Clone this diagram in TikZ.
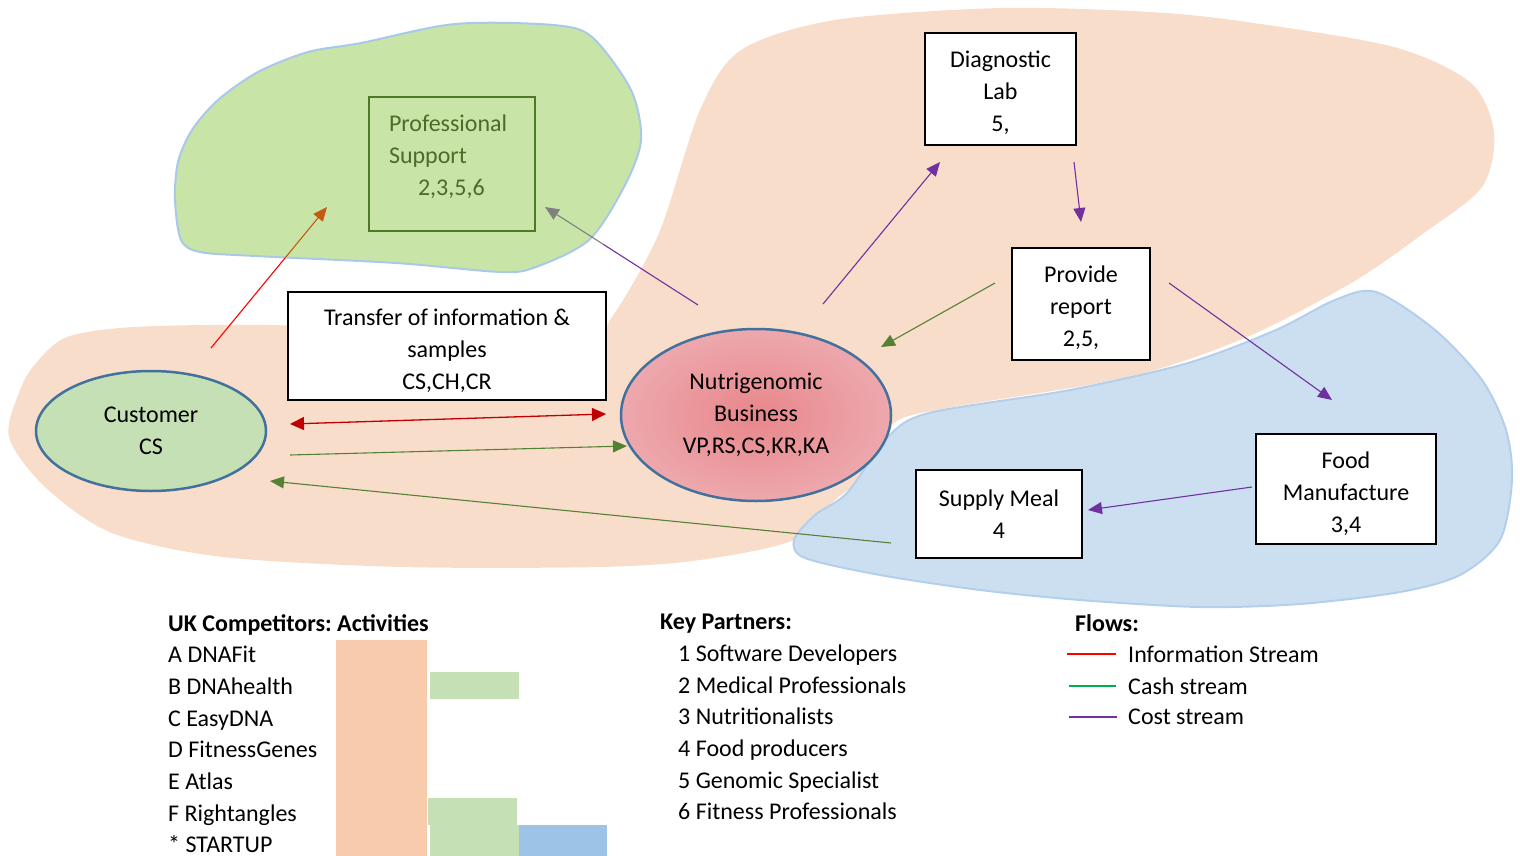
\documentclass[tikz,border=0pt]{standalone}
\usepackage{fontspec}
\setmainfont{Carlito}
\usetikzlibrary{shapes.geometric,arrows.meta,positioning,calc}

\definecolor{peachbg}{HTML}{F9DDCB}
\definecolor{bluebg}{HTML}{CCDFF1}
\definecolor{blueedge}{HTML}{B4CFEB}
\definecolor{greenbg}{HTML}{C8E5A7}
\definecolor{greenedge}{HTML}{A9C8EA}
\definecolor{custfill}{HTML}{C5E0B4}
\definecolor{ringblue}{HTML}{41719C}
\definecolor{profdark}{HTML}{4E7A28}
\definecolor{proftext}{HTML}{4F6B2A}
\definecolor{infored}{HTML}{C00000}
\definecolor{cashgreen}{HTML}{548235}
\definecolor{costpurple}{HTML}{7030A0}
\definecolor{tiporange}{HTML}{C55A11}
\definecolor{tipgray}{HTML}{808080}
\definecolor{nutricore}{HTML}{E8868B}
\definecolor{nutririm}{HTML}{F2CBD0}
\definecolor{barpeach}{HTML}{F8CBAD}
\definecolor{bargreen}{HTML}{C5E0B4}
\definecolor{barblue}{HTML}{9DC3E6}
\definecolor{keyred}{HTML}{FF0000}
\definecolor{keygreen}{HTML}{00B050}

\pgfdeclareradialshading{nutrishade}{\pgfpoint{0bp}{0bp}}{color(0bp)=(nutricore); color(50bp)=(nutririm); color(72bp)=(nutririm)}

% pads that move a node's text down or up
\newcommand{\strutup}[1]{\rule{0pt}{#1pt}}
\newcommand{\strutdown}[1]{\rule[-#1pt]{0pt}{0pt}}

\frenchspacing

\begin{document}
\begin{tikzpicture}[
    x=1pt, y=-1pt,
    font=\fontsize{24}{32}\selectfont,
    box/.style={rectangle, draw, line width=2pt, fill=white, align=center, inner sep=0pt},
    ring/.style={ellipse, draw=ringblue, line width=2.5pt, align=center, inner sep=0pt},
    arrow/.style={-{Triangle[length=14pt,width=12pt]}, line width=1.1pt},
    keytext/.style={anchor=north west, inner sep=0pt, align=left, font=\fontsize{24}{31.7}\selectfont}
]
    \useasboundingbox (0,0) rectangle (1520,856);

    % background areas
    \fill[peachbg] plot[smooth cycle, tension=0.5] coordinates {
        (9,437) (20,390) (36,363) (67,337) (134,327) (268,325) (450,332) (590,330)
        (612,317) (659,233) (700,110) (741,50) (835,20) (1000,8) (1150,12) (1247,22)
        (1394,47) (1471,83) (1494,133) (1482,187) (1424,233) (1353,282) (1247,337)
        (1129,377) (953,407) (894,423) (876,467) (835,500) (794,540) (700,560)
        (600,567) (402,567) (223,557) (112,533) (45,487)};
    \filldraw[fill=bluebg, draw=blueedge, line width=2pt] plot[smooth cycle, tension=0.5] coordinates {
        (1376,292) (1435,330) (1482,380) (1506,430) (1512,480) (1500,540) (1460,575)
        (1400,592) (1300,604) (1200,607) (1080,600) (980,590) (880,575) (805,558)
        (794,540) (815,515) (847,493) (888,437) (929,413) (1070,390) (1188,363)
        (1276,330) (1335,300)};
    \filldraw[fill=greenbg, draw=greenedge, line width=2pt] plot[smooth cycle, tension=0.5] coordinates {
        (175,200) (181,240) (200,252) (255,256) (396,263) (501,272) (536,267) (589,240)
        (624,187) (641,140) (631,90) (592,37) (553,25) (455,24) (361,43) (308,52)
        (258,72) (218,100) (192,130) (178,162)};

    % nodes
    \node[box, fill=none, draw=profdark, text=proftext, align=left, text width=126pt,
          minimum width=166pt, minimum height=134pt] (prof) at (452,164)
          {Professional\\Support\\\hspace*{29pt}2,3,5,6\strutdown{17}};
    \node[box, minimum width=151pt, minimum height=112pt] (diag) at (1000.5,89) {\strutup{24}Diagnostic\\Lab\\5,};
    \node[box, minimum width=138pt, minimum height=112pt] (report) at (1081,304) {\strutup{25}Provide\\report\\2,5,};
    \node[box, minimum width=318pt, minimum height=108pt] (transfer) at (447,346)
          {\strutup{27}Transfer of information \&\\samples\\CS,CH,CR};
    \node[ring, fill=custfill, minimum width=230pt, minimum height=120pt] (cust) at (151,431) {Customer\\CS};
    \node[ring, shading=nutrishade, minimum width=270pt, minimum height=172pt] (nutri) at (756,415)
          {Nutrigenomic\\Business\\VP,RS,CS,KR,KA};
    \node[box, minimum width=166pt, minimum height=88pt] (meal) at (999,514) {Supply Meal\\4};
    \node[box, minimum width=180pt, minimum height=110pt] (food) at (1346,489) {\strutup{27}Food\\Manufacture\\3,4};

    % connector ends
    \coordinate (custup) at (211,348);
    \coordinate (profin) at (327,207);
    \coordinate (nutriup) at (698,305);
    \coordinate (profright) at (545,207);
    \coordinate (custright) at (290,424);
    \coordinate (nutrileft) at (606,414);
    \coordinate (custpay) at (290,455);
    \coordinate (nutripay) at (627,446);
    \coordinate (nutritop) at (823,304);
    \coordinate (diagin) at (940,162);
    \coordinate (diagout) at (1074,162);
    \coordinate (reportin) at (1081,222);
    \coordinate (reportleft) at (995,283);
    \coordinate (nutriright) at (881,347);
    \coordinate (reportright) at (1169,283);
    \coordinate (foodin) at (1332,400);
    \coordinate (foodleft) at (1252,487);
    \coordinate (mealin) at (1088,510);
    \coordinate (mealleft) at (891,543);
    \coordinate (custin) at (270,481);
    \coordinate (infoedge) at ($(custup)!0.64!(profin)$);
    \coordinate (costedge) at ($(nutriup)!0.62!(profright)$);

    % flows
    \draw[keyred, line width=1.1pt] (custup) -- (infoedge);
    \draw[arrow, tiporange] (infoedge) -- (profin);
    \draw[costpurple, line width=1.1pt] (nutriup) -- (costedge);
    \draw[arrow, tipgray] (costedge) -- (profright);
    \draw[{Triangle[length=14pt,width=13pt]}-{Triangle[length=14pt,width=13pt]}, infored, line width=1.3pt] (custright) -- (nutrileft);
    \draw[arrow, cashgreen] (custpay) -- (nutripay);
    \draw[arrow, cashgreen] (mealleft) -- (custin);
    \draw[arrow, costpurple] (nutritop) -- (diagin);
    \draw[arrow, costpurple] (diagout) -- (reportin);
    \draw[arrow, cashgreen] (reportleft) -- (nutriright);
    \draw[arrow, costpurple] (reportright) -- (foodin);
    \draw[arrow, costpurple] (foodleft) -- (mealin);

    % key
    \node[keytext] (rivals) at (168,614) {\textbf{UK Competitors: Activities}\\A DNAFit\\B DNAhealth\\C EasyDNA\\D FitnessGenes\\E Atlas\\F Rightangles\\* STARTUP};
    \fill[barpeach] (336,640) rectangle (427,856);
    \fill[bargreen] (430,672) rectangle (519,699);
    \fill[bargreen] (428,798) rectangle (517,825);
    \fill[bargreen] (430,825) rectangle (519,856);
    \fill[barblue] (519,825) rectangle (607,856);

    \node[keytext] (partners) at (660,614) {\textbf{Key Partners:}\\\hspace*{18pt}1 Software Developers\\\hspace*{18pt}2 Medical Professionals\\\hspace*{18pt}3 Nutritionalists\\\hspace*{18pt}4 Food producers\\\hspace*{18pt}5 Genomic Specialist\\\hspace*{18pt}6 Fitness Professionals};

    \node[keytext] (flows) at (1075,614) {\textbf{Flows:}};
    \node[anchor=west, inner sep=0pt] (info) at (1128,654) {Information Stream};
    \node[anchor=west, inner sep=0pt] (cash) at (1128,686) {Cash stream};
    \node[anchor=west, inner sep=0pt] (cost) at (1128,717) {Cost stream};
    \draw[keyred, line width=1.2pt] ([xshift=-61pt]info.west) -- ([xshift=-12pt]info.west);
    \draw[keygreen, line width=1.2pt] ([xshift=-59pt]cash.west) -- ([xshift=-12pt]cash.west);
    \draw[costpurple, line width=2pt] ([xshift=-59pt]cost.west) -- ([xshift=-11pt]cost.west);
\end{tikzpicture}
\end{document}
